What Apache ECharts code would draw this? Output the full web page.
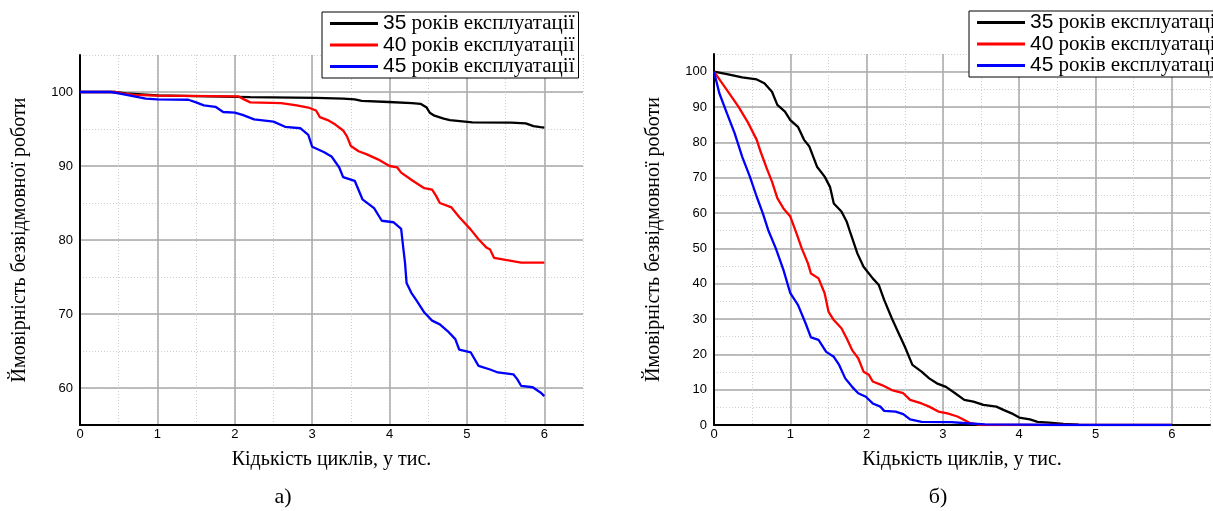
<!DOCTYPE html>
<html><head><meta charset="utf-8">
<script src="https://cdn.jsdelivr.net/npm/echarts@6/dist/echarts.min.js"></script>
<style>html,body{margin:0;padding:0;background:#fff}#c{width:1213px;height:511px}</style>
</head><body><div id="c"></div>
<script>
// ---------- DATA ----------
const seriesNames = ['35 років експлуатації', '40 років експлуатації', '45 років експлуатації'];
const xAxisName = 'Кідькість циклів, у тис.';
const yAxisName = 'Ймовірність безвідмовної роботи';
const captions = ['а)', 'б)'];

const xTickLabels = [0, 1, 2, 3, 4, 5, 6];
const yTickLabelsA = [60, 70, 80, 90, 100];
const yTickLabelsB = [0, 10, 20, 30, 40, 50, 60, 70, 80, 90, 100];

// chart а)
const xA35 = [0,0.45,0.6,1.0,1.5,2.2,3.05,3.4,3.55,3.64,3.99,4.29,4.4,4.48,4.52,4.58,4.7,4.78,5.07,5.57,5.76,5.86,5.95,6.0];
const yA35 = [100,100,99.8,99.55,99.45,99.3,99.2,99.1,99.0,98.8,98.65,98.5,98.4,97.9,97.2,96.8,96.4,96.2,95.9,95.85,95.75,95.4,95.25,95.2];
const xA40 = [0,0.45,0.55,0.7,1.0,2.05,2.12,2.2,2.6,2.8,2.95,3.05,3.1,3.2,3.3,3.4,3.45,3.5,3.6,3.7,3.85,4.0,4.1,4.15,4.3,4.45,4.55,4.6,4.65,4.8,4.9,5.05,5.15,5.25,5.3,5.35,5.5,5.7,6.0];
const yA40 = [100,100,99.8,99.6,99.5,99.4,99.0,98.6,98.5,98.2,97.9,97.5,96.6,96.2,95.6,94.8,94.0,92.7,92.0,91.6,90.9,90.0,89.8,89.1,88.0,87.0,86.8,86.0,85.0,84.4,83.1,81.4,80.1,79.0,78.7,77.6,77.3,76.95,76.95];
const xA45 = [0,0.4,0.5,0.65,0.85,1.0,1.4,1.5,1.6,1.75,1.85,2.0,2.1,2.25,2.5,2.65,2.85,2.95,3.0,3.15,3.25,3.35,3.4,3.55,3.65,3.8,3.9,4.05,4.15,4.18,4.2,4.22,4.28,4.35,4.45,4.55,4.65,4.75,4.85,4.9,5.05,5.15,5.3,5.4,5.6,5.65,5.7,5.85,5.95,6.0];
const yA45 = [100,100,99.8,99.5,99.1,99.0,98.95,98.6,98.2,98.0,97.3,97.2,96.9,96.3,96.0,95.3,95.1,94.2,92.6,91.9,91.3,89.8,88.5,88.0,85.5,84.3,82.6,82.4,81.5,78.7,76.9,74.2,72.9,71.8,70.2,69.1,68.6,67.7,66.6,65.2,64.8,63.0,62.5,62.1,61.85,61.2,60.3,60.1,59.4,58.9];

// chart б)
const xB35 = [0,0.17,0.37,0.56,0.66,0.76,0.83,0.93,1.0,1.1,1.18,1.25,1.35,1.45,1.52,1.57,1.67,1.74,1.79,1.88,1.96,2.08,2.16,2.23,2.33,2.43,2.5,2.6,2.72,2.82,2.92,3.04,3.16,3.28,3.4,3.53,3.7,3.8,3.9,4.0,4.14,4.24,4.39,4.58,4.78];
const yB35 = [100,99.3,98.4,97.8,96.7,94.3,90.6,88.7,86.3,84.4,80.7,78.8,73.1,70.3,67.4,62.7,60.4,57.5,54.2,48.5,44.8,41.5,39.6,35.4,30.2,25.5,22.2,17.0,15.1,13.2,11.8,10.8,9.0,7.1,6.6,5.7,5.2,4.2,3.3,2.1,1.6,0.9,0.7,0.3,0.1];
const xB40 = [0,0.17,0.32,0.44,0.56,0.61,0.69,0.76,0.83,0.91,1.0,1.08,1.15,1.23,1.27,1.37,1.45,1.5,1.57,1.67,1.74,1.81,1.89,1.96,2.03,2.08,2.2,2.33,2.48,2.57,2.72,2.82,2.94,3.06,3.19,3.28,3.36,3.5,6.0];
const yB40 = [100,94.8,90.1,85.8,80.7,77.4,72.7,68.9,64.2,61.3,59.0,54.3,50.0,45.8,42.9,41.5,37.3,32.1,29.7,27.4,24.5,21.2,18.9,15.1,14.2,12.3,11.3,9.9,9.0,7.1,6.1,5.2,3.8,3.3,2.4,1.4,0.5,0,0];
const xB45 = [0,0.07,0.17,0.27,0.37,0.47,0.56,0.64,0.71,0.81,0.91,1.0,1.1,1.2,1.27,1.37,1.47,1.57,1.64,1.72,1.81,1.89,1.99,2.08,2.18,2.23,2.38,2.48,2.57,2.72,3.11,3.31,3.55,4.1,4.5,6.0];
const yB45 = [100,93.9,88.2,82.6,75.9,70.3,64.6,59.9,55.2,50.0,43.9,37.3,34.0,28.8,24.8,24.1,20.7,19.3,17.0,13.2,10.8,9.0,8.0,6.1,5.2,4.0,3.8,3.1,1.6,0.9,0.8,0.5,0.2,0.1,0,0];

// ---------- STYLE ----------
const COLORS = ['#000000', '#ff0000', '#0000ff'];
const SANS = '"Liberation Sans", Arial, sans-serif';
const SERIF = '"Liberation Serif", "Times New Roman", serif';
const MAJOR = '#a9a9a9';
const MINOR = '#cfcfcf';
const X_RANGE = [0, 6.5], X_STEP = 0.5;
const YA_RANGE = [55, 105], YB_RANGE = [0, 105], Y_STEP = 5;

const pairs = (xs, ys) => xs.map((x, i) => [x, ys[i]]);
const has = (list, v) => list.some(m => Math.abs(m - v) < 1e-9);

function overlayColors(min, max, step, majors) {
  const out = [];
  for (let v = min; v <= max + 1e-9; v += step) out.push(has(majors, v) ? MAJOR : 'rgba(0,0,0,0)');
  return out;
}

function mainX(grid) {
  return {
    type: 'value', gridIndex: grid, min: X_RANGE[0], max: X_RANGE[1], interval: X_STEP,
    name: xAxisName, nameLocation: 'middle', nameGap: 25,
    nameTextStyle: { fontFamily: SERIF, fontSize: 20, color: '#000' },
    axisLine: { show: true, onZero: false, lineStyle: { color: '#000', width: 2 } },
    axisTick: { show: false },
    axisLabel: { fontFamily: SANS, fontSize: 13, color: '#000', margin: 3,
      formatter: v => has(xTickLabels, v) ? String(v) : '' },
    splitLine: { show: true, lineStyle: { color: MINOR, type: [1, 2], width: 1 } }
  };
}
function overX(grid) {
  return {
    type: 'value', gridIndex: grid, min: X_RANGE[0], max: X_RANGE[1], interval: X_STEP,
    position: 'bottom',
    axisLine: { show: false }, axisTick: { show: false }, axisLabel: { show: false },
    splitLine: { show: true, lineStyle: { color: overlayColors(X_RANGE[0], X_RANGE[1], X_STEP, xTickLabels), width: 1.5 } }
  };
}
function mainY(grid, range, labels) {
  return {
    type: 'value', gridIndex: grid, min: range[0], max: range[1], interval: Y_STEP,
    name: yAxisName, nameLocation: 'middle', nameGap: 50,
    nameTextStyle: { fontFamily: SERIF, fontSize: 20, color: '#000' },
    axisLine: { show: true, onZero: false, lineStyle: { color: '#000', width: 2 } },
    axisTick: { show: false },
    axisLabel: { fontFamily: SANS, fontSize: 13, color: '#000', margin: 7,
      formatter: v => has(labels, v) ? String(v) : '' },
    splitLine: { show: true, lineStyle: { color: MINOR, type: [1, 2], width: 1 } }
  };
}
function overY(grid, range, labels) {
  return {
    type: 'value', gridIndex: grid, min: range[0], max: range[1], interval: Y_STEP,
    position: 'left',
    axisLine: { show: false }, axisTick: { show: false }, axisLabel: { show: false },
    splitLine: { show: true, lineStyle: { color: overlayColors(range[0], range[1], Y_STEP, labels), width: 1.5 } }
  };
}

function line(name, idx, data, xi, yi) {
  return {
    type: 'line', name, xAxisIndex: xi, yAxisIndex: yi, data,
    showSymbol: false, symbol: 'none', smooth: false, z: 3,
    lineStyle: { color: COLORS[idx], width: 2.3 }, itemStyle: { color: COLORS[idx] },
    animation: false
  };
}

function legend(left, top) {
  return {
    left, top, orient: 'vertical', data: seriesNames,
    icon: 'rect', itemWidth: 48, itemHeight: 3, itemGap: 0.5,
    padding: [1, 4, 1, 8],
    backgroundColor: '#fff', borderColor: '#000', borderWidth: 1, borderRadius: 0,
    selectedMode: false,
    formatter: name => {
      const i = name.indexOf(' ');
      return '{n|' + name.slice(0, i) + '}{t|' + name.slice(i) + '}';
    },
    textStyle: {
      color: '#000',
      rich: {
        n: { fontFamily: SANS, fontSize: 21, lineHeight: 24, color: '#000' },
        t: { fontFamily: SERIF, fontSize: 21, lineHeight: 24, color: '#000' }
      }
    }
  };
}

const chart = echarts.init(document.getElementById('c'), null, { renderer: 'canvas' });
chart.setOption({
  backgroundColor: '#fff',
  animation: false,
  grid: [
    { left: 80, right: 630, top: 55, bottom: 86 },
    { left: 714, right: -7, top: 54, bottom: 86 }
  ],
  xAxis: [mainX(0), overX(0), mainX(1), overX(1)],
  yAxis: [mainY(0, YA_RANGE, yTickLabelsA), overY(0, YA_RANGE, yTickLabelsA),
          mainY(1, YB_RANGE, yTickLabelsB), overY(1, YB_RANGE, yTickLabelsB)],
  legend: [legend(322, 12), legend(969, 11)],
  series: [
    line(seriesNames[0], 0, pairs(xA35, yA35), 0, 0),
    line(seriesNames[1], 1, pairs(xA40, yA40), 0, 0),
    line(seriesNames[2], 2, pairs(xA45, yA45), 0, 0),
    line(seriesNames[0], 0, pairs(xB35, yB35), 2, 2),
    line(seriesNames[1], 1, pairs(xB40, yB40), 2, 2),
    line(seriesNames[2], 2, pairs(xB45, yB45), 2, 2)
  ],
  graphic: [
    { type: 'text', x: 283, y: 497, style: { text: captions[0], fontFamily: SERIF, fontSize: 22, fill: '#000', align: 'center', verticalAlign: 'middle' } },
    { type: 'text', x: 938, y: 497, style: { text: captions[1], fontFamily: SERIF, fontSize: 22, fill: '#000', align: 'center', verticalAlign: 'middle' } }
  ]
});
</script>
</body></html>
